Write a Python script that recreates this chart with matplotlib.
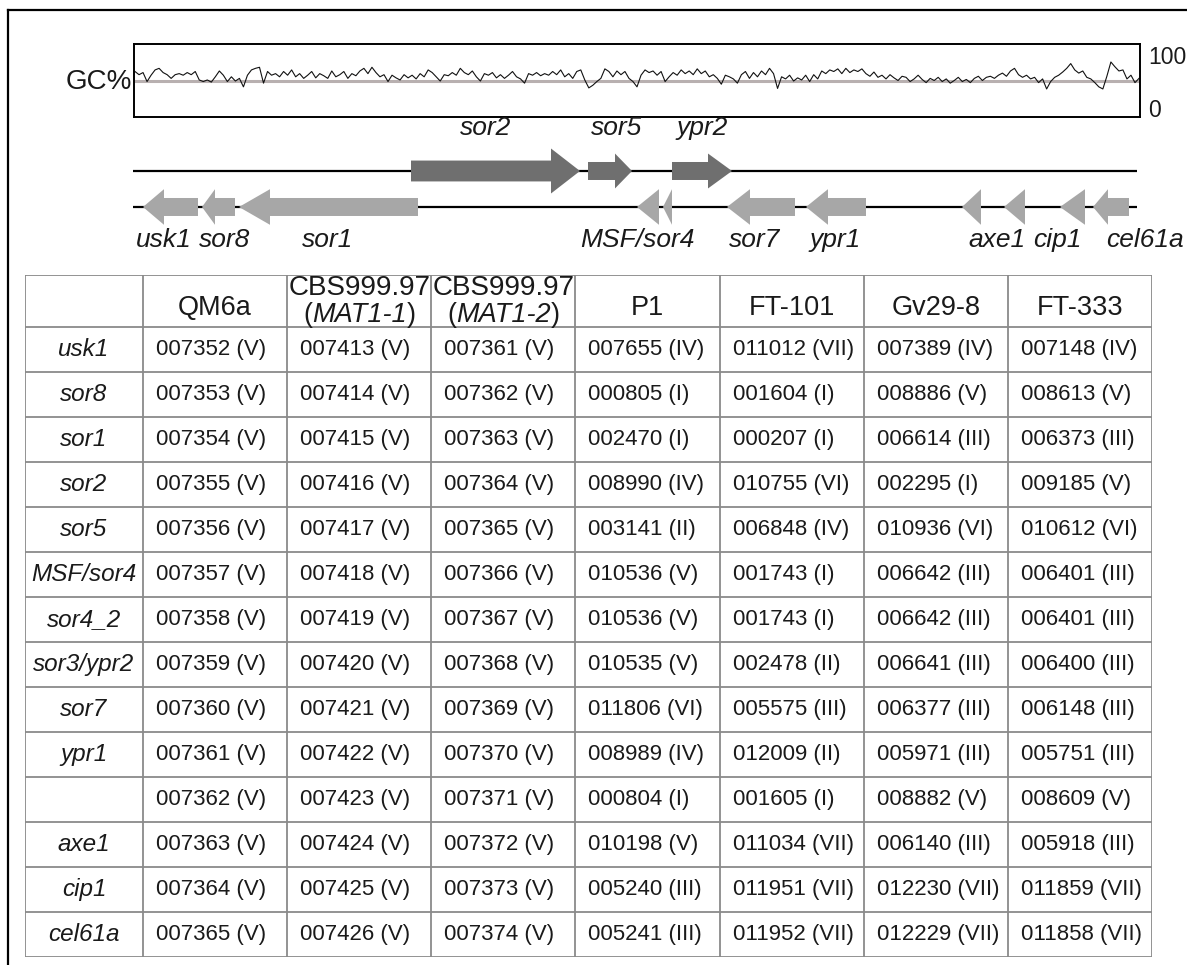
import matplotlib.pyplot as plt
from matplotlib.patches import FancyArrow

plt.rcParams['font.family'] = ['Liberation Sans', 'DejaVu Sans']

W, H = 1187, 965

# GC% per sliding window along the scaffold
gc_percent = [
    69, 63, 67, 50, 62, 72, 75, 67, 63, 56, 63, 65, 62, 67, 63, 69, 53, 50, 53, 49,
    59, 70, 62, 50, 59, 51, 56, 40, 62, 72, 75, 77, 47, 69, 62, 65, 59, 69, 62, 72,
    59, 65, 56, 62, 69, 57, 65, 61, 56, 70, 59, 63, 69, 56, 65, 61, 70, 75, 65, 77,
    67, 59,
    63, 50, 62, 57, 53, 63, 57, 62, 55, 65, 59, 72, 67, 59, 51, 63, 61, 67, 62, 75,
    67, 63, 70, 59, 51, 65, 62, 67, 57, 63, 56, 62, 69, 59, 55, 47, 65, 62, 67, 61,
    65, 62, 69, 63, 72, 59, 65, 56, 69, 72, 53, 38, 43, 50, 56, 74, 69, 59, 70, 63,
    69, 56, 50, 40, 62, 72, 67, 70, 62, 69, 50, 59, 67, 62, 72, 65, 70, 63, 74, 65,
    70, 59, 63, 56, 45, 62, 59, 55, 47, 63, 69, 56, 67, 59, 70, 63, 75, 65, 37, 59,
    55, 62, 51, 57, 53, 62, 50, 63, 55, 70, 65, 72, 69, 74, 65, 75, 67, 72, 69, 74,
    65, 60, 68, 58, 62, 55, 63, 57, 52, 60, 58, 50, 55, 62, 54, 48, 56, 52, 58, 50,
    55, 47, 52, 58, 50, 54, 48, 56, 60, 52, 58, 60, 56, 62, 66, 60, 70, 75, 63, 58,
    62, 55, 58, 48, 55, 36, 50, 58, 62, 68, 75, 84, 72, 66, 70, 58, 55, 48, 40, 36,
    60, 87, 78, 70, 72, 55, 62, 48, 56,
]
gc_mean = 51

# genes on the scaffold (start -> end gives direction), head length of arrow
scaffold_len = 1004
fwd_names = ['sor2', 'sor5', 'ypr2']
fwd_start = [278, 455, 539]
fwd_end = [447, 499, 599]
fwd_head = [29, 17, 24]
fwd_label_x = [353, 484, 569]

rev_start = [65, 102, 285, 526, 539, 662, 733, 848, 892, 952, 996]
rev_end = [10, 69, 106, 504, 530, 594, 673, 829, 871, 927, 960]
rev_head = [21, 13, 31, 22, 9, 23, 22, 19, 21, 25, 15]
rev_labels = ['usk1', 'sor8', 'sor1', 'MSF/sor4', 'sor7', 'ypr1', 'axe1', 'cip1', 'cel61a']
rev_label_x = [31, 92, 195, 504, 622, 702, 864, 924, 1012]

# ortholog table
genes = ['usk1', 'sor8', 'sor1', 'sor2', 'sor5', 'MSF/sor4', 'sor4_2', 'sor3/ypr2',
         'sor7', 'ypr1', '', 'axe1', 'cip1', 'cel61a']
strains = ['QM6a', 'CBS999.97', 'CBS999.97', 'P1', 'FT-101', 'Gv29-8', 'FT-333']
strain_sub = ['', 'MAT1-1', 'MAT1-2', '', '', '', '']
qm6a = ['007352 (V)', '007353 (V)', '007354 (V)', '007355 (V)', '007356 (V)', '007357 (V)',
        '007358 (V)', '007359 (V)', '007360 (V)', '007361 (V)', '007362 (V)', '007363 (V)',
        '007364 (V)', '007365 (V)']
cbs_mat11 = ['007413 (V)', '007414 (V)', '007415 (V)', '007416 (V)', '007417 (V)', '007418 (V)',
             '007419 (V)', '007420 (V)', '007421 (V)', '007422 (V)', '007423 (V)', '007424 (V)',
             '007425 (V)', '007426 (V)']
cbs_mat12 = ['007361 (V)', '007362 (V)', '007363 (V)', '007364 (V)', '007365 (V)', '007366 (V)',
             '007367 (V)', '007368 (V)', '007369 (V)', '007370 (V)', '007371 (V)', '007372 (V)',
             '007373 (V)', '007374 (V)']
p1 = ['007655 (IV)', '000805 (I)', '002470 (I)', '008990 (IV)', '003141 (II)', '010536 (V)',
      '010536 (V)', '010535 (V)', '011806 (VI)', '008989 (IV)', '000804 (I)', '010198 (V)',
      '005240 (III)', '005241 (III)']
ft101 = ['011012 (VII)', '001604 (I)', '000207 (I)', '010755 (VI)', '006848 (IV)', '001743 (I)',
         '001743 (I)', '002478 (II)', '005575 (III)', '012009 (II)', '001605 (I)', '011034 (VII)',
         '011951 (VII)', '011952 (VII)']
gv298 = ['007389 (IV)', '008886 (V)', '006614 (III)', '002295 (I)', '010936 (VI)', '006642 (III)',
         '006642 (III)', '006641 (III)', '006377 (III)', '005971 (III)', '008882 (V)', '006140 (III)',
         '012230 (VII)', '012229 (VII)']
ft333 = ['007148 (IV)', '008613 (V)', '006373 (III)', '009185 (V)', '010612 (VI)', '006401 (III)',
         '006401 (III)', '006400 (III)', '006148 (III)', '005751 (III)', '008609 (V)', '005918 (III)',
         '011859 (VII)', '011858 (VII)']
columns = [qm6a, cbs_mat11, cbs_mat12, p1, ft101, gv298, ft333]

dark = '#6f6f6f'
light = '#a7a7a7'
ink = '#1a1a1a'
grid = '#8a8a8a'


def px_axes(x0, y0, x1, y1):
    return fig.add_axes([x0 / W, 1 - y1 / H, (x1 - x0) / W, (y1 - y0) / H])


fig = plt.figure(figsize=(W / 100, H / 100), dpi=100)

# outer frame (left and top only)
frame = fig.add_axes([8 / W, -0.1, 1.2, 1.1 - 10 / H])
frame.set_xticks([])
frame.set_yticks([])
frame.patch.set_alpha(0)
for s in ['right', 'bottom']:
    frame.spines[s].set_visible(False)
for s in ['left', 'top']:
    frame.spines[s].set_linewidth(1.6)

# GC% track
ax = px_axes(134, 44, 1140, 117)
ax.plot(range(len(gc_percent)), gc_percent, color='#111111', lw=0.8)
ax.axhline(gc_mean, color='#b8b0b0', lw=2.2, zorder=1)
ax.set_xlim(-0.25, len(gc_percent) - 0.75)
ax.set_ylim(-17, 121)
ax.set_xticks([])
ax.yaxis.tick_right()
ax.set_yticks([0, 100])
ax.tick_params(axis='y', length=0, pad=6, labelsize=16.5, labelcolor=ink)
for s in ax.spines.values():
    s.set_linewidth(1.4)
ax.text(-0.002, 0.48, 'GC%', transform=ax.transAxes, ha='right', va='center',
        fontsize=20, color=ink)

# gene map
gx = px_axes(133, 135, 1137, 245)
gx.set_xlim(0, scaffold_len)
gx.set_ylim(-1.056, 2.0)
gx.axis('off')
gx.plot([0, scaffold_len], [1, 1], color='black', lw=1.6, zorder=1)
gx.plot([0, scaffold_len], [0, 0], color='black', lw=1.6, zorder=1)
for i in range(len(fwd_start)):
    big = fwd_names[i] == 'sor2'
    gx.add_patch(FancyArrow(fwd_start[i], 1, fwd_end[i] - fwd_start[i], 0,
                            width=0.58 if big else 0.5, head_width=1.25 if big else 0.97,
                            head_length=fwd_head[i], length_includes_head=True,
                            color=dark, lw=0, zorder=2))
    gx.text(fwd_label_x[i], 2.19, fwd_names[i], ha='center', va='center',
            fontsize=19, style='italic', color=ink, clip_on=False)
for i in range(len(rev_start)):
    gx.add_patch(FancyArrow(rev_start[i], 0, rev_end[i] - rev_start[i], 0,
                            width=0.5, head_width=0.99, head_length=rev_head[i],
                            length_includes_head=True, color=light, lw=0, zorder=2))
for name, x in zip(rev_labels, rev_label_x):
    gx.text(x, -0.92, name, ha='center', va='center', fontsize=19,
            style='italic', color=ink, clip_on=False)

# table
tx = px_axes(25, 275, 1152, 957)
col_w = [118] + [144] * 7
row_h = [52] + [45] * 14
total_w = sum(col_w)
total_h = sum(row_h)
tx.set_xlim(0, total_w)
tx.set_ylim(total_h, 0)
tx.axis('off')
x_edges = [sum(col_w[:i]) for i in range(len(col_w) + 1)]
y_edges = [sum(row_h[:i]) for i in range(len(row_h) + 1)]
tx.vlines(x_edges, 0, total_h, color=grid, lw=1.3)
tx.hlines(y_edges, 0, total_w, color=grid, lw=1.3)

for j, name in enumerate(strains):
    cx = (x_edges[j + 1] + x_edges[j + 2]) / 2
    if strain_sub[j]:
        tx.text(cx, 13, name, ha='center', va='center', fontsize=20, color=ink)
        itx = tx.text(cx, 40, strain_sub[j], ha='center', va='center', fontsize=19.5,
                      style='italic', color=ink)
        tx.annotate('(', xy=(0, 0), xycoords=itx, ha='right', va='bottom',
                    fontsize=19.5, color=ink)
        tx.annotate(')', xy=(1, 0), xycoords=itx, ha='left', va='bottom',
                    fontsize=19.5, color=ink)
    else:
        tx.text(cx, 33, name, ha='center', va='center', fontsize=19.5, color=ink)

for i, g in enumerate(genes):
    cy = (y_edges[i + 1] + y_edges[i + 2]) / 2
    tx.text(x_edges[1] / 2, cy, g, ha='center', va='center', fontsize=17.5,
            style='italic', color=ink)
    for j, col in enumerate(columns):
        tx.text(x_edges[j + 1] + 13, cy, col[i], ha='left', va='center',
                fontsize=16, color=ink)

fig.savefig('out.png', dpi=100)
